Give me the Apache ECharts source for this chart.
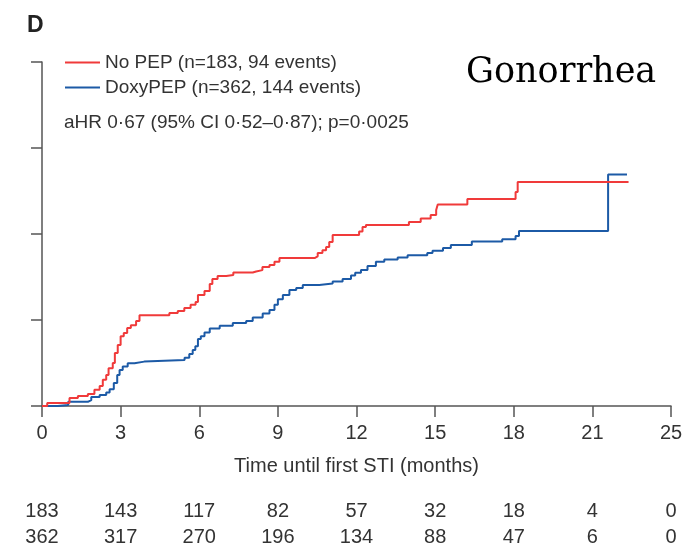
<!DOCTYPE html>
<html>
<head>
<meta charset="utf-8">
<script src="https://cdn.jsdelivr.net/npm/echarts@6/dist/echarts.min.js"></script>
<style>
  html, body { margin: 0; padding: 0; background: #ffffff; }
  #chart { width: 699px; height: 547px; }
</style>
</head>
<body>
<div id="chart"></div>
<script>
// Cumulative incidence of first gonorrhoea infection (%), step points [time in months, value]
const noPepTime = [0, 0.2, 1.05, 1.37, 1.75, 2.0, 2.2, 2.32, 2.45, 2.54, 2.7, 2.78, 2.89, 3.0, 3.12, 3.25, 3.39, 3.59, 3.72,
  4.86, 5.18, 5.43, 5.67, 5.86, 5.95, 6.2, 6.4, 6.5, 6.7, 7.03, 7.3, 8.04, 8.17, 8.41, 8.68, 8.87, 9.06,
  10.4, 10.52, 10.7, 10.84, 10.96, 11.09, 12.1, 12.23, 12.36, 14.0, 14.45, 14.83, 15.04, 15.1, 16.23, 18.07, 18.15, 22.38];
const noPepRisk = [0, 0.9, 2.3, 2.9, 3.5, 4.7, 5.8, 7.6, 9.0, 11.0, 12.5, 15.4, 17.7, 20.3, 21.2, 22.7, 23.5, 24.7, 26.4,
  27.0, 27.6, 28.5, 29.4, 30.2, 32.3, 33.4, 35.5, 36.9, 37.8, 38.1, 38.8, 39.1, 39.5, 40.4, 41.0, 41.9, 43.0,
  43.5, 44.5, 45.3, 46.2, 47.7, 49.7, 50.7, 52.0, 52.6, 53.5, 54.5, 55.5, 57.0, 58.6, 60.2, 62.2, 65.1, 65.1];

const doxyTime = [0, 0.6, 1.0, 1.75, 1.88, 2.2, 2.45, 2.58, 2.74, 2.87, 2.96, 3.08, 3.27, 3.53, 3.9,
  5.44, 5.62, 5.75, 5.85, 5.95, 6.06, 6.2, 6.4, 6.78, 7.28, 7.79, 8.04, 8.42, 8.68, 8.87, 9.0, 9.19, 9.44, 9.7, 9.95,
  10.58, 11.09, 11.47, 11.79, 11.95, 12.17, 12.42, 12.74, 13.06, 13.57, 13.95, 14.7, 14.9, 15.3, 15.6, 16.4, 17.56,
  18.07, 18.2, 21.6, 22.32];
const doxyRisk = [0, 0.3, 1.2, 1.7, 2.6, 3.2, 3.9, 4.9, 6.7, 9.0, 10.5, 11.5, 12.4, 12.9, 13.4,
  14.0, 15.1, 16.3, 17.4, 19.5, 20.3, 21.4, 22.5, 23.3, 24.1, 24.7, 25.7, 26.9, 27.9, 29.4, 31.0, 32.3, 33.7, 34.3, 35.2,
  35.6, 36.2, 36.9, 37.9, 38.7, 39.5, 40.7, 41.9, 42.6, 43.2, 43.8, 44.5, 45.1, 45.9, 46.8, 47.8, 48.5,
  49.4, 50.9, 67.3, 67.3];

// Axis tick labels and numbers at risk at each tick
const xTickLabels = ['0', '3', '6', '9', '12', '15', '18', '21', '25'];
const atRiskNoPep = [183, 143, 117, 82, 57, 32, 18, 4, 0];
const atRiskDoxy = [362, 317, 270, 196, 134, 88, 47, 6, 0];

const seriesNames = ['No PEP (n=183, 94 events)', 'DoxyPEP (n=362, 144 events)'];
const statText = 'aHR 0·67 (95% CI 0·52–0·87); p=0·0025';

const RED = '#f03a3a';
const BLUE = '#1c5aa6';
const AXIS = '#555555';
const TEXT = '#333333';
const FONT = '"Liberation Sans", Arial, sans-serif';

const zip = (xs, ys) => xs.map((x, i) => [x, ys[i]]);
const tickIndex = v => Math.round(v / 3);

const riskAxis = (values, offset) => ({
  type: 'value', gridIndex: 0, position: 'bottom', offset: offset,
  min: 0, max: 24, interval: 3,
  axisLine: { show: false }, axisTick: { show: false }, splitLine: { show: false },
  axisLabel: {
    margin: 0, fontSize: 20, color: TEXT, fontFamily: FONT,
    showMinLabel: true, showMaxLabel: true,
    formatter: v => String(values[tickIndex(v)])
  }
});

const chart = echarts.init(document.getElementById('chart'), null, { renderer: 'canvas' });
chart.setOption({
  animation: false,
  backgroundColor: '#ffffff',
  grid: { left: 42, top: 62, right: 28, bottom: 141 },
  title: [
    { text: 'D', left: 22, top: 9, textStyle: { fontSize: 23, fontWeight: 'bold', color: '#222', fontFamily: FONT } },
    { text: 'Gonorrhea', left: 461, top: 50, textStyle: { fontSize: 35, fontWeight: 'normal', color: '#000', fontFamily: '"DejaVu Serif", serif' } },
    { text: statText, left: 59, top: 108, textStyle: { fontSize: 19, fontWeight: 'normal', color: TEXT, fontFamily: FONT } }
  ],
  legend: {
    orient: 'vertical', left: 60, top: 48, itemGap: 6,
    icon: 'rect', itemWidth: 35, itemHeight: 2,
    selectedMode: false,
    textStyle: { fontSize: 19, color: TEXT, fontFamily: FONT },
    data: seriesNames
  },
  xAxis: [
    {
      type: 'value', min: 0, max: 24, interval: 3,
      axisLine: { show: true, lineStyle: { color: AXIS, width: 1.5 } },
      axisTick: { show: true, length: 11, lineStyle: { color: AXIS, width: 1.5 } },
      splitLine: { show: false },
      axisLabel: { margin: 17, fontSize: 20, color: TEXT, fontFamily: FONT, formatter: v => xTickLabels[tickIndex(v)] },
      name: 'Time until first STI (months)', nameLocation: 'middle', nameGap: 50,
      nameTextStyle: { fontSize: 20, color: TEXT, fontFamily: FONT }
    },
    riskAxis(atRiskNoPep, 95),
    riskAxis(atRiskDoxy, 121)
  ],
  yAxis: {
    type: 'value', min: 0, max: 100, interval: 25,
    axisLine: { show: true, lineStyle: { color: AXIS, width: 1.5 } },
    axisTick: { show: true, length: 11, lineStyle: { color: AXIS, width: 1.5 } },
    axisLabel: { show: false },
    splitLine: { show: false }
  },
  series: [
    {
      name: seriesNames[0], type: 'line', step: 'end', showSymbol: false,
      data: zip(noPepTime, noPepRisk),
      lineStyle: { color: RED, width: 2 }, itemStyle: { color: RED }, z: 3
    },
    {
      name: seriesNames[1], type: 'line', step: 'end', showSymbol: false,
      data: zip(doxyTime, doxyRisk),
      lineStyle: { color: BLUE, width: 2 }, itemStyle: { color: BLUE }, z: 2
    }
  ]
});
</script>
</body>
</html>
